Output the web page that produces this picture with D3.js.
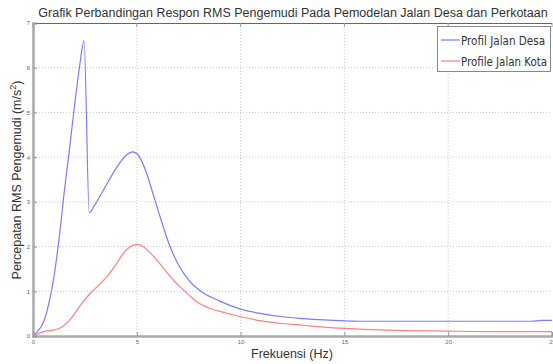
<!DOCTYPE html>
<html>
<head>
<meta charset="utf-8">
<script src="https://cdn.jsdelivr.net/npm/d3@7"></script>
<style>
  body { margin: 0; background: #fff; }
  svg { display: block; font-family: "Liberation Sans", Arial, sans-serif; }
</style>
</head>
<body>
<svg id="chart"></svg>
<script>
// frequency (Hz) and RMS acceleration
const freqDesa = [0, 0.25, 0.5, 0.75, 1.0, 1.25, 1.5, 1.75, 2.0, 2.25, 2.46, 2.71, 3.0, 3.5, 4.0, 4.5, 4.8, 5.0, 5.25, 5.5, 5.8, 6.2, 6.6, 7.0, 7.5, 8.0, 9.0, 10, 11, 12, 13, 14, 15, 16, 18, 20, 22, 24, 24.5, 25];
const rmsDesa  = [0, 0.12, 0.3, 0.7, 1.3, 2.15, 3.2, 4.15, 5.15, 6.05, 6.6, 2.76, 2.95, 3.35, 3.75, 4.05, 4.12, 4.08, 3.9, 3.6, 3.15, 2.55, 2.0, 1.6, 1.25, 1.03, 0.78, 0.6, 0.5, 0.43, 0.39, 0.36, 0.34, 0.33, 0.33, 0.33, 0.33, 0.33, 0.35, 0.35];

const freqKota = [0, 0.6, 1.0, 1.7, 2.0, 2.3, 2.75, 3.2, 3.55, 4.0, 4.35, 4.7, 5.0, 5.3, 5.6, 6.0, 6.4, 6.8, 7.2, 7.6, 8.0, 8.5, 9.0, 9.5, 10, 11, 12, 13, 14, 15, 17, 20, 22, 25];
const rmsKota  = [0, 0.11, 0.13, 0.32, 0.5, 0.7, 0.95, 1.15, 1.32, 1.6, 1.85, 2.0, 2.05, 2.0, 1.88, 1.68, 1.45, 1.23, 1.05, 0.88, 0.73, 0.62, 0.55, 0.49, 0.43, 0.34, 0.28, 0.24, 0.2, 0.17, 0.13, 0.11, 0.1, 0.1];

const xTicks = [0, 5, 10, 15, 20, 25];
const yTicks = [0, 1, 2, 3, 4, 5, 6, 7];
const seriesNames = ["Profil Jalan Desa", "Profile Jalan Kota"];
const seriesColors = ["#7b7bff", "#ff8080"];

const width = 553, height = 364;
const margin = { top: 23, right: 1, bottom: 28, left: 33 };
const w = width - margin.left - margin.right;
const h = height - margin.top - margin.bottom;

const svg = d3.select('#chart')
    .attr('width', width)
    .attr('height', height);

const g = svg.append('g')
    .attr('transform', 'translate(' + margin.left + ',' + margin.top + ')');

const x = d3.scaleLinear().domain([0, 25]).range([0, w]);
const y = d3.scaleLinear().domain([0, 7]).range([h, 0]);

// dotted grid
g.append('g').selectAll('line')
  .data(xTicks.slice(1, -1))
  .enter().append('line')
    .attr('x1', d => x(d)).attr('x2', d => x(d))
    .attr('y1', 0).attr('y2', h)
    .attr('stroke', '#c8c8c8')
    .attr('stroke-dasharray', '1,2');

g.append('g').selectAll('line')
  .data(yTicks.slice(1, -1))
  .enter().append('line')
    .attr('x1', 0).attr('x2', w)
    .attr('y1', d => y(d)).attr('y2', d => y(d))
    .attr('stroke', '#c8c8c8')
    .attr('stroke-dasharray', '1,2');

// box: top border thin dark, left/bottom thick gray
g.append('line')
  .attr('x1', 0).attr('x2', w).attr('y1', 0.5).attr('y2', 0.5)
  .attr('stroke', '#666');

const xAxis = g.append('g')
  .attr('transform', 'translate(0,' + h + ')')
  .call(d3.axisBottom(x).tickValues(xTicks).tickFormat(d3.format('d')).tickSize(-4).tickPadding(4));

const yAxis = g.append('g')
  .call(d3.axisLeft(y).tickValues(yTicks).tickFormat(d3.format('d')).tickSize(-4).tickPadding(3));

[xAxis, yAxis].forEach(a => {
  a.select('.domain').attr('stroke', '#aaa').attr('stroke-width', 2.5);
  a.selectAll('.tick line').attr('stroke', '#999');
  a.selectAll('.tick text')
    .attr('fill', '#666')
    .style('font-size', '6px')
    .style('font-family', '"Liberation Sans", Arial, sans-serif');
});

// top ticks
g.append('g').selectAll('line')
  .data(xTicks)
  .enter().append('line')
    .attr('x1', d => x(d)).attr('x2', d => x(d))
    .attr('y1', 0).attr('y2', 4)
    .attr('stroke', '#999');

// series
const line = d3.line()
  .x(d => x(d[0]))
  .y(d => y(d[1]))
  .curve(d3.curveMonotoneX);

const series = [
  d3.zip(freqDesa, rmsDesa),
  d3.zip(freqKota, rmsKota)
];

g.selectAll('.series')
  .data(series)
  .enter().append('path')
    .attr('class', 'series')
    .attr('d', line)
    .attr('fill', 'none')
    .attr('stroke', (d, i) => seriesColors[i])
    .attr('stroke-width', 1.2);

// title and axis labels
svg.append('text')
  .attr('x', 293)
  .attr('y', 17)
  .attr('text-anchor', 'middle')
  .attr('fill', '#333')
  .style('font-size', '12.5px')
  .text('Grafik Perbandingan Respon RMS Pengemudi Pada Pemodelan Jalan Desa dan Perkotaan');

svg.append('text')
  .attr('x', 292)
  .attr('y', 358)
  .attr('text-anchor', 'middle')
  .attr('fill', '#333')
  .style('font-size', '12.5px')
  .text('Frekuensi (Hz)');

const yl = svg.append('text')
  .attr('transform', 'translate(21,180) rotate(-90)')
  .attr('text-anchor', 'middle')
  .attr('fill', '#333')
  .style('font-size', '12.5px');
yl.append('tspan').text('Percepatan RMS Pengemudi (m/s');
yl.append('tspan').attr('dy', -5).style('font-size', '9px').text('2');
yl.append('tspan').attr('dy', 5).text(')');

// legend
const legend = svg.append('g').attr('transform', 'translate(437,26)');
legend.append('rect')
  .attr('x', 0.5).attr('y', 0.5)
  .attr('width', 113).attr('height', 45)
  .attr('fill', '#fff')
  .attr('stroke', '#888');

const item = legend.selectAll('.item')
  .data(seriesNames)
  .enter().append('g')
    .attr('class', 'item')
    .attr('transform', (d, i) => 'translate(0,' + (14 + i * 21) + ')');

item.append('line')
  .attr('x1', 4).attr('x2', 23)
  .attr('stroke', (d, i) => seriesColors[i])
  .attr('stroke-width', 1.2);

item.append('text')
  .attr('x', 24)
  .attr('dy', '0.35em')
  .attr('fill', '#333')
  .attr('textLength', (d, i) => i === 0 ? 84 : 86)
  .attr('lengthAdjust', 'spacingAndGlyphs')
  .style('font-family', '"DejaVu Sans Condensed", "Liberation Sans", sans-serif')
  .style('font-size', '13px')
  .text(d => d);
</script>
</body>
</html>
